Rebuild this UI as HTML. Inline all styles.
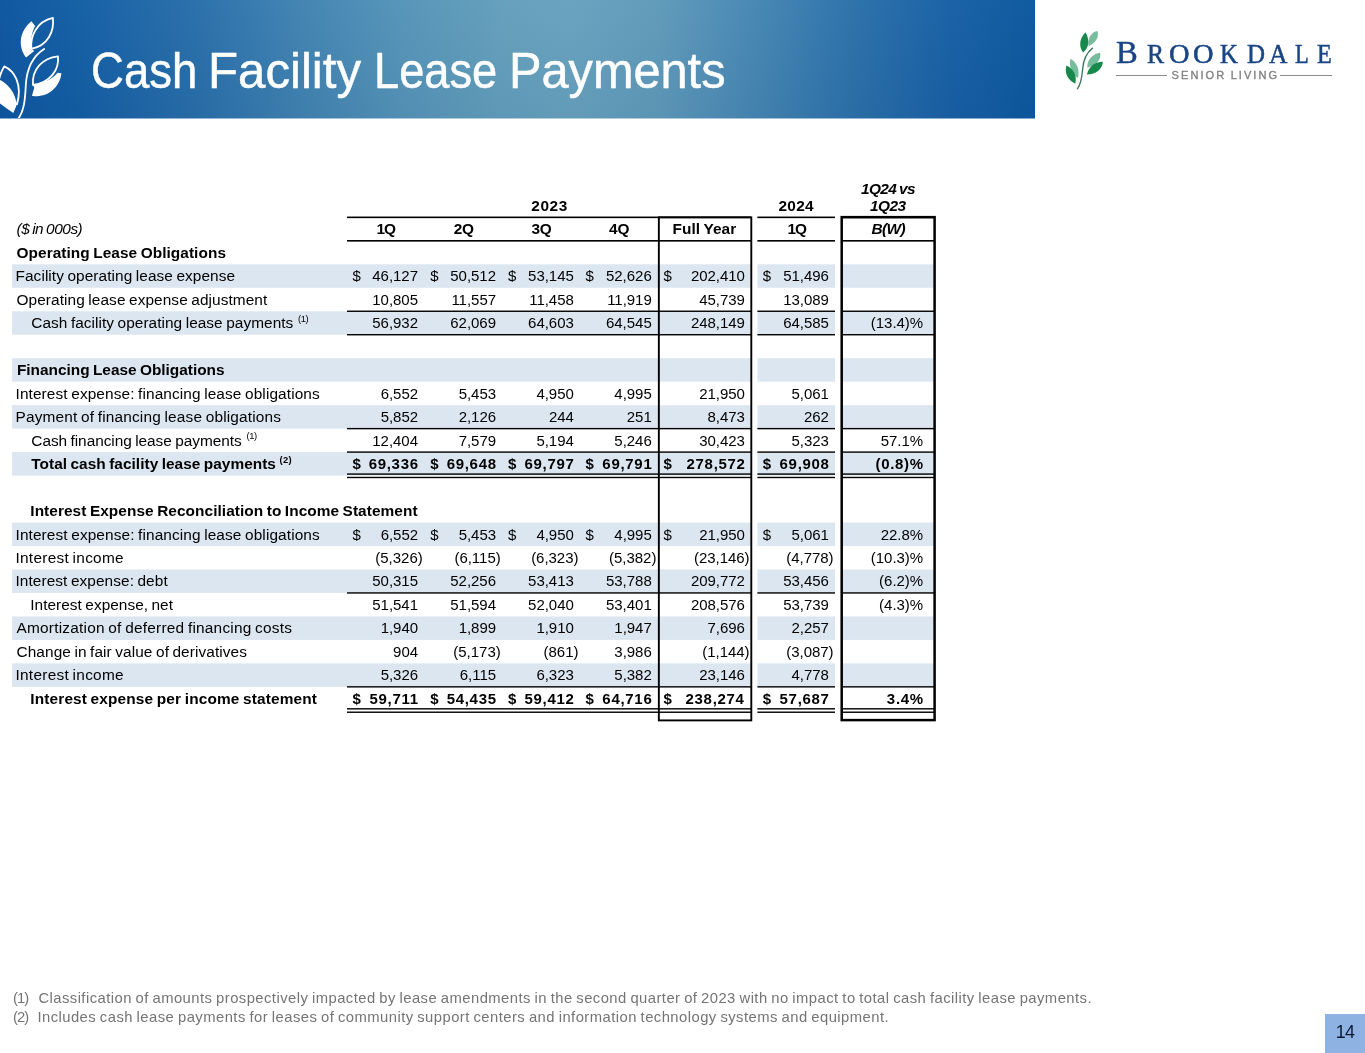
<!DOCTYPE html>
<html><head><meta charset="utf-8"><title>Cash Facility Lease Payments</title>
<style>
html,body{margin:0;padding:0;background:#fff;}
body{width:1365px;height:1053px;position:relative;overflow:hidden;font-family:"Liberation Sans",sans-serif;color:#000;}
.t{position:absolute;white-space:pre;display:block;}
#txt{position:absolute;left:0;top:0;width:1365px;height:1053px;will-change:transform;}
.r{position:absolute;box-sizing:content-box;}
#banner,#banner2{position:absolute;left:0;top:0;width:1035px;height:118px;
 background:linear-gradient(to bottom,rgba(255,255,255,0.015),rgba(0,20,60,0.05)),linear-gradient(to right,#0e57a1 0,#145fa5 80px,#2a70ab 200px,#4183b2 300px,#5594b8 400px,#639fbc 500px,#68a2be 570px,#5f9aba 660px,#4888b4 750px,#2d72ab 850px,#1861a5 950px,#0d589f 1035px);}
#banner2{top:118px;height:1px;opacity:.5;}
#pg{position:absolute;left:1325px;top:1014px;width:40px;height:39px;background:#8eb2e2;}
</style></head><body>
<div id="banner"></div><div id="banner2"></div>
<div id="pg"></div>
<svg style="position:absolute;left:0;top:10px" width="70" height="108" viewBox="0 0 658 1015" fill="none" stroke="none">
<g stroke="#fff" stroke-width="17" stroke-linejoin="round" stroke-linecap="round">
<path d="M295,365 C283,250 340,110 497,75 C512,200 450,335 295,365 Z"/>
<path d="M415,367 C300,440 252,560 243,700 C236,850 225,950 172,1022"/>
<path d="M310,705 C298,560 400,450 545,435 C560,560 470,685 310,705 Z"/>
<path d="M-20,700 C0,600 20,560 40,530 C130,570 215,690 160,885"/>
</g>
<g fill="#fff">
<path d="M295,105 C190,190 160,330 245,447 L322,385 L297,365 C286,280 300,205 330,150 Z"/>
<path d="M577,595 C565,720 450,835 300,805 L322,730 L310,705 C420,690 500,640 542,590 Z"/>
<path d="M-20,650 C60,680 130,760 150,850 L160,885 L125,968 C80,940 30,900 -20,865 Z"/>
</g>
</svg>
<svg style="position:absolute;left:1055px;top:20px" width="70" height="80" viewBox="0 0 921 1053">
<path d="M495,370 C400,440 370,540 362,660 C352,780 335,850 295,905" stroke="#3b7558" stroke-width="17" fill="none" stroke-linecap="round"/>
<path d="M560,145 C480,160 430,230 440,345 C540,300 580,230 560,145 Z" fill="#78bc9e"/>
<path d="M400,160 C320,240 310,350 370,428 C450,360 460,260 400,160 Z" fill="#17894c"/>
<path d="M595,430 C500,440 420,520 425,625 C540,600 610,530 595,430 Z" fill="#78bc9e"/>
<path d="M630,550 C520,550 440,620 420,718 C540,715 620,650 630,550 Z" fill="#17894c"/>
<path d="M205,510 C180,600 210,700 300,765 C330,660 290,560 205,510 Z" fill="#78bc9e"/>
<path d="M150,600 C120,700 170,800 268,838 C290,730 240,640 150,600 Z" fill="#17894c"/>
</svg>
<div class="r" style="left:1115.9px;top:74.7px;width:51.4px;height:1.1px;background:#8c8c8c"></div>
<div class="r" style="left:1279.8px;top:74.7px;width:51.8px;height:1.1px;background:#8c8c8c"></div>
<svg style="position:absolute;left:0;top:0" width="1365" height="1053" viewBox="0 0 1365 1053">
<rect x="12.10" y="264.30" width="738.90" height="23.48" fill="#dce6f1"/>
<rect x="757.50" y="264.30" width="77.50" height="23.48" fill="#dce6f1"/>
<rect x="842.00" y="264.30" width="92.00" height="23.48" fill="#dce6f1"/>
<rect x="12.10" y="311.25" width="738.90" height="23.48" fill="#dce6f1"/>
<rect x="757.50" y="311.25" width="77.50" height="23.48" fill="#dce6f1"/>
<rect x="842.00" y="311.25" width="92.00" height="23.48" fill="#dce6f1"/>
<rect x="12.10" y="358.20" width="738.90" height="23.48" fill="#dce6f1"/>
<rect x="757.50" y="358.20" width="77.50" height="23.48" fill="#dce6f1"/>
<rect x="842.00" y="358.20" width="92.00" height="23.48" fill="#dce6f1"/>
<rect x="12.10" y="405.15" width="738.90" height="23.48" fill="#dce6f1"/>
<rect x="757.50" y="405.15" width="77.50" height="23.48" fill="#dce6f1"/>
<rect x="842.00" y="405.15" width="92.00" height="23.48" fill="#dce6f1"/>
<rect x="12.10" y="452.10" width="738.90" height="23.48" fill="#dce6f1"/>
<rect x="757.50" y="452.10" width="77.50" height="23.48" fill="#dce6f1"/>
<rect x="842.00" y="452.10" width="92.00" height="23.48" fill="#dce6f1"/>
<rect x="12.10" y="522.52" width="738.90" height="23.48" fill="#dce6f1"/>
<rect x="757.50" y="522.52" width="77.50" height="23.48" fill="#dce6f1"/>
<rect x="842.00" y="522.52" width="92.00" height="23.48" fill="#dce6f1"/>
<rect x="12.10" y="569.48" width="738.90" height="23.48" fill="#dce6f1"/>
<rect x="757.50" y="569.48" width="77.50" height="23.48" fill="#dce6f1"/>
<rect x="842.00" y="569.48" width="92.00" height="23.48" fill="#dce6f1"/>
<rect x="12.10" y="616.43" width="738.90" height="23.48" fill="#dce6f1"/>
<rect x="757.50" y="616.43" width="77.50" height="23.48" fill="#dce6f1"/>
<rect x="842.00" y="616.43" width="92.00" height="23.48" fill="#dce6f1"/>
<rect x="12.10" y="663.38" width="738.90" height="23.48" fill="#dce6f1"/>
<rect x="757.50" y="663.38" width="77.50" height="23.48" fill="#dce6f1"/>
<rect x="842.00" y="663.38" width="92.00" height="23.48" fill="#dce6f1"/>
<rect x="347.00" y="216.55" width="404.00" height="1.60" fill="#000"/>
<rect x="757.40" y="216.55" width="77.60" height="1.60" fill="#000"/>
<rect x="842.00" y="216.55" width="92.00" height="1.60" fill="#000"/>
<rect x="347.00" y="240.02" width="404.00" height="1.60" fill="#000"/>
<rect x="757.40" y="240.02" width="77.60" height="1.60" fill="#000"/>
<rect x="842.00" y="240.02" width="92.00" height="1.60" fill="#000"/>
<rect x="347.00" y="310.55" width="404.00" height="1.40" fill="#000"/>
<rect x="757.40" y="310.55" width="77.60" height="1.40" fill="#000"/>
<rect x="842.00" y="310.55" width="92.00" height="1.40" fill="#000"/>
<rect x="347.00" y="334.03" width="404.00" height="1.40" fill="#000"/>
<rect x="757.40" y="334.03" width="77.60" height="1.40" fill="#000"/>
<rect x="842.00" y="334.03" width="92.00" height="1.40" fill="#000"/>
<rect x="347.00" y="427.93" width="404.00" height="1.40" fill="#000"/>
<rect x="757.40" y="427.93" width="77.60" height="1.40" fill="#000"/>
<rect x="842.00" y="427.93" width="92.00" height="1.40" fill="#000"/>
<rect x="347.00" y="451.40" width="404.00" height="1.40" fill="#000"/>
<rect x="757.40" y="451.40" width="77.60" height="1.40" fill="#000"/>
<rect x="842.00" y="451.40" width="92.00" height="1.40" fill="#000"/>
<rect x="347.00" y="592.25" width="404.00" height="1.40" fill="#000"/>
<rect x="757.40" y="592.25" width="77.60" height="1.40" fill="#000"/>
<rect x="842.00" y="592.25" width="92.00" height="1.40" fill="#000"/>
<rect x="347.00" y="686.15" width="404.00" height="1.40" fill="#000"/>
<rect x="757.40" y="686.15" width="77.60" height="1.40" fill="#000"/>
<rect x="842.00" y="686.15" width="92.00" height="1.40" fill="#000"/>
<rect x="347.00" y="473.38" width="404.00" height="1.40" fill="#000"/>
<rect x="757.40" y="473.38" width="77.60" height="1.40" fill="#000"/>
<rect x="842.00" y="473.38" width="92.00" height="1.40" fill="#000"/>
<rect x="347.00" y="476.78" width="404.00" height="1.40" fill="#000"/>
<rect x="757.40" y="476.78" width="77.60" height="1.40" fill="#000"/>
<rect x="842.00" y="476.78" width="92.00" height="1.40" fill="#000"/>
<rect x="347.00" y="708.12" width="404.00" height="1.40" fill="#000"/>
<rect x="757.40" y="708.12" width="77.60" height="1.40" fill="#000"/>
<rect x="842.00" y="708.12" width="92.00" height="1.40" fill="#000"/>
<rect x="347.00" y="711.52" width="404.00" height="1.40" fill="#000"/>
<rect x="757.40" y="711.52" width="77.60" height="1.40" fill="#000"/>
<rect x="842.00" y="711.52" width="92.00" height="1.40" fill="#000"/>
<rect x="658.85" y="217.35" width="92.45" height="503.05" fill="none" stroke="#000" stroke-width="1.9"/>
<rect x="841.7" y="217.15" width="92.90" height="502.95" fill="none" stroke="#000" stroke-width="2.5"/>
</svg>
<div id="txt">
<span class="t" style="left:16.50px;top:219.00px;font-size:15.4px;line-height:20px;letter-spacing:-0.470px;word-spacing:-0.89px;font-style:italic;">($ in 000s)</span>
<span class="t" style="left:16.50px;top:243.00px;font-size:15.4px;line-height:20px;letter-spacing:0.066px;word-spacing:-0.89px;font-weight:bold;">Operating Lease Obligations</span>
<span class="t" style="left:15.50px;top:266.00px;font-size:15.4px;line-height:20px;letter-spacing:0.076px;word-spacing:-0.89px;">Facility operating lease expense</span>
<span class="t" style="left:16.50px;top:290.00px;font-size:15.4px;line-height:20px;letter-spacing:0.084px;word-spacing:-0.89px;">Operating lease expense adjustment</span>
<span class="t" style="left:31.30px;top:313.00px;font-size:15.4px;line-height:20px;letter-spacing:0.056px;word-spacing:-0.89px;">Cash facility operating lease payments</span>
<span class="t" style="left:298.00px;top:313.00px;font-size:9.4px;line-height:12px;letter-spacing:-0.418px;">(1)</span>
<span class="t" style="left:16.90px;top:360.00px;font-size:15.4px;line-height:20px;letter-spacing:-0.003px;word-spacing:-0.89px;font-weight:bold;">Financing Lease Obligations</span>
<span class="t" style="left:15.50px;top:384.00px;font-size:15.4px;line-height:20px;letter-spacing:0.111px;word-spacing:-0.89px;">Interest expense: financing lease obligations</span>
<span class="t" style="left:15.50px;top:407.00px;font-size:15.4px;line-height:20px;letter-spacing:0.173px;word-spacing:-0.89px;">Payment of financing lease obligations</span>
<span class="t" style="left:31.30px;top:431.00px;font-size:15.4px;line-height:20px;letter-spacing:-0.029px;word-spacing:-0.89px;">Cash financing lease payments</span>
<span class="t" style="left:246.50px;top:430.00px;font-size:9.4px;line-height:12px;letter-spacing:-0.418px;">(1)</span>
<span class="t" style="left:31.30px;top:454.00px;font-size:15.4px;line-height:20px;letter-spacing:0.037px;word-spacing:-0.89px;font-weight:bold;">Total cash facility lease payments</span>
<span class="t" style="left:279.50px;top:454.00px;font-size:9.4px;line-height:12px;letter-spacing:0.332px;font-weight:bold;">(2)</span>
<span class="t" style="left:30.30px;top:501.00px;font-size:15.4px;line-height:20px;letter-spacing:0.068px;word-spacing:-0.89px;font-weight:bold;">Interest Expense Reconciliation to Income Statement</span>
<span class="t" style="left:15.50px;top:525.00px;font-size:15.4px;line-height:20px;letter-spacing:0.111px;word-spacing:-0.89px;">Interest expense: financing lease obligations</span>
<span class="t" style="left:15.50px;top:548.00px;font-size:15.4px;line-height:20px;letter-spacing:0.267px;word-spacing:-0.89px;">Interest income</span>
<span class="t" style="left:15.50px;top:571.00px;font-size:15.4px;line-height:20px;letter-spacing:0.079px;word-spacing:-0.89px;">Interest expense: debt</span>
<span class="t" style="left:30.30px;top:595.00px;font-size:15.4px;line-height:20px;letter-spacing:0.036px;word-spacing:-0.89px;">Interest expense, net</span>
<span class="t" style="left:16.50px;top:618.00px;font-size:15.4px;line-height:20px;letter-spacing:0.222px;word-spacing:-0.89px;">Amortization of deferred financing costs</span>
<span class="t" style="left:16.50px;top:642.00px;font-size:15.4px;line-height:20px;letter-spacing:0.089px;word-spacing:-0.89px;">Change in fair value of derivatives</span>
<span class="t" style="left:15.50px;top:665.00px;font-size:15.4px;line-height:20px;letter-spacing:0.267px;word-spacing:-0.89px;">Interest income</span>
<span class="t" style="left:30.30px;top:689.00px;font-size:15.4px;line-height:20px;letter-spacing:0.149px;word-spacing:-0.89px;font-weight:bold;">Interest expense per income statement</span>
<span class="t" style="left:372.31px;top:266.00px;font-size:15.0px;line-height:20px;letter-spacing:-0.030px;">46,127</span>
<span class="t" style="left:352.50px;top:266.00px;font-size:15.0px;line-height:20px;letter-spacing:0.000px;">$</span>
<span class="t" style="left:450.31px;top:266.00px;font-size:15.0px;line-height:20px;letter-spacing:-0.030px;">50,512</span>
<span class="t" style="left:430.20px;top:266.00px;font-size:15.0px;line-height:20px;letter-spacing:0.000px;">$</span>
<span class="t" style="left:528.11px;top:266.00px;font-size:15.0px;line-height:20px;letter-spacing:-0.030px;">53,145</span>
<span class="t" style="left:507.90px;top:266.00px;font-size:15.0px;line-height:20px;letter-spacing:0.000px;">$</span>
<span class="t" style="left:606.01px;top:266.00px;font-size:15.0px;line-height:20px;letter-spacing:-0.030px;">52,626</span>
<span class="t" style="left:585.60px;top:266.00px;font-size:15.0px;line-height:20px;letter-spacing:0.000px;">$</span>
<span class="t" style="left:690.90px;top:266.00px;font-size:15.0px;line-height:20px;letter-spacing:-0.030px;">202,410</span>
<span class="t" style="left:663.50px;top:266.00px;font-size:15.0px;line-height:20px;letter-spacing:0.000px;">$</span>
<span class="t" style="left:783.21px;top:266.00px;font-size:15.0px;line-height:20px;letter-spacing:-0.030px;">51,496</span>
<span class="t" style="left:762.80px;top:266.00px;font-size:15.0px;line-height:20px;letter-spacing:0.000px;">$</span>
<span class="t" style="left:372.31px;top:290.00px;font-size:15.0px;line-height:20px;letter-spacing:-0.030px;">10,805</span>
<span class="t" style="left:451.43px;top:290.00px;font-size:15.0px;line-height:20px;letter-spacing:-0.030px;">11,557</span>
<span class="t" style="left:529.23px;top:290.00px;font-size:15.0px;line-height:20px;letter-spacing:-0.030px;">11,458</span>
<span class="t" style="left:607.13px;top:290.00px;font-size:15.0px;line-height:20px;letter-spacing:-0.030px;">11,919</span>
<span class="t" style="left:699.21px;top:290.00px;font-size:15.0px;line-height:20px;letter-spacing:-0.030px;">45,739</span>
<span class="t" style="left:783.21px;top:290.00px;font-size:15.0px;line-height:20px;letter-spacing:-0.030px;">13,089</span>
<span class="t" style="left:372.31px;top:313.00px;font-size:15.0px;line-height:20px;letter-spacing:-0.030px;">56,932</span>
<span class="t" style="left:450.31px;top:313.00px;font-size:15.0px;line-height:20px;letter-spacing:-0.030px;">62,069</span>
<span class="t" style="left:528.11px;top:313.00px;font-size:15.0px;line-height:20px;letter-spacing:-0.030px;">64,603</span>
<span class="t" style="left:606.01px;top:313.00px;font-size:15.0px;line-height:20px;letter-spacing:-0.030px;">64,545</span>
<span class="t" style="left:690.90px;top:313.00px;font-size:15.0px;line-height:20px;letter-spacing:-0.030px;">248,149</span>
<span class="t" style="left:783.21px;top:313.00px;font-size:15.0px;line-height:20px;letter-spacing:-0.030px;">64,585</span>
<span class="t" style="left:870.80px;top:313.00px;font-size:15.0px;line-height:20px;letter-spacing:-0.030px;">(13.4)%</span>
<span class="t" style="left:380.63px;top:384.00px;font-size:15.0px;line-height:20px;letter-spacing:-0.030px;">6,552</span>
<span class="t" style="left:458.63px;top:384.00px;font-size:15.0px;line-height:20px;letter-spacing:-0.030px;">5,453</span>
<span class="t" style="left:536.43px;top:384.00px;font-size:15.0px;line-height:20px;letter-spacing:-0.030px;">4,950</span>
<span class="t" style="left:614.33px;top:384.00px;font-size:15.0px;line-height:20px;letter-spacing:-0.030px;">4,995</span>
<span class="t" style="left:699.21px;top:384.00px;font-size:15.0px;line-height:20px;letter-spacing:-0.030px;">21,950</span>
<span class="t" style="left:791.53px;top:384.00px;font-size:15.0px;line-height:20px;letter-spacing:-0.030px;">5,061</span>
<span class="t" style="left:380.63px;top:407.00px;font-size:15.0px;line-height:20px;letter-spacing:-0.030px;">5,852</span>
<span class="t" style="left:458.63px;top:407.00px;font-size:15.0px;line-height:20px;letter-spacing:-0.030px;">2,126</span>
<span class="t" style="left:548.88px;top:407.00px;font-size:15.0px;line-height:20px;letter-spacing:-0.030px;">244</span>
<span class="t" style="left:626.78px;top:407.00px;font-size:15.0px;line-height:20px;letter-spacing:-0.030px;">251</span>
<span class="t" style="left:707.53px;top:407.00px;font-size:15.0px;line-height:20px;letter-spacing:-0.030px;">8,473</span>
<span class="t" style="left:803.98px;top:407.00px;font-size:15.0px;line-height:20px;letter-spacing:-0.030px;">262</span>
<span class="t" style="left:372.31px;top:431.00px;font-size:15.0px;line-height:20px;letter-spacing:-0.030px;">12,404</span>
<span class="t" style="left:458.63px;top:431.00px;font-size:15.0px;line-height:20px;letter-spacing:-0.030px;">7,579</span>
<span class="t" style="left:536.43px;top:431.00px;font-size:15.0px;line-height:20px;letter-spacing:-0.030px;">5,194</span>
<span class="t" style="left:614.33px;top:431.00px;font-size:15.0px;line-height:20px;letter-spacing:-0.030px;">5,246</span>
<span class="t" style="left:699.21px;top:431.00px;font-size:15.0px;line-height:20px;letter-spacing:-0.030px;">30,423</span>
<span class="t" style="left:791.53px;top:431.00px;font-size:15.0px;line-height:20px;letter-spacing:-0.030px;">5,323</span>
<span class="t" style="left:880.73px;top:431.00px;font-size:15.0px;line-height:20px;letter-spacing:-0.030px;">57.1%</span>
<span class="t" style="left:368.66px;top:454.00px;font-size:15.0px;line-height:20px;letter-spacing:0.700px;font-weight:bold;">69,336</span>
<span class="t" style="left:352.50px;top:454.00px;font-size:15.0px;line-height:20px;letter-spacing:0.000px;font-weight:bold;">$</span>
<span class="t" style="left:446.66px;top:454.00px;font-size:15.0px;line-height:20px;letter-spacing:0.700px;font-weight:bold;">69,648</span>
<span class="t" style="left:430.20px;top:454.00px;font-size:15.0px;line-height:20px;letter-spacing:0.000px;font-weight:bold;">$</span>
<span class="t" style="left:524.46px;top:454.00px;font-size:15.0px;line-height:20px;letter-spacing:0.700px;font-weight:bold;">69,797</span>
<span class="t" style="left:507.90px;top:454.00px;font-size:15.0px;line-height:20px;letter-spacing:0.000px;font-weight:bold;">$</span>
<span class="t" style="left:602.36px;top:454.00px;font-size:15.0px;line-height:20px;letter-spacing:0.700px;font-weight:bold;">69,791</span>
<span class="t" style="left:585.60px;top:454.00px;font-size:15.0px;line-height:20px;letter-spacing:0.000px;font-weight:bold;">$</span>
<span class="t" style="left:686.52px;top:454.00px;font-size:15.0px;line-height:20px;letter-spacing:0.700px;font-weight:bold;">278,572</span>
<span class="t" style="left:663.50px;top:454.00px;font-size:15.0px;line-height:20px;letter-spacing:0.000px;font-weight:bold;">$</span>
<span class="t" style="left:779.56px;top:454.00px;font-size:15.0px;line-height:20px;letter-spacing:0.700px;font-weight:bold;">69,908</span>
<span class="t" style="left:762.80px;top:454.00px;font-size:15.0px;line-height:20px;letter-spacing:0.000px;font-weight:bold;">$</span>
<span class="t" style="left:875.46px;top:454.00px;font-size:15.0px;line-height:20px;letter-spacing:0.700px;font-weight:bold;">(0.8)%</span>
<span class="t" style="left:380.63px;top:525.00px;font-size:15.0px;line-height:20px;letter-spacing:-0.030px;">6,552</span>
<span class="t" style="left:352.50px;top:525.00px;font-size:15.0px;line-height:20px;letter-spacing:0.000px;">$</span>
<span class="t" style="left:458.63px;top:525.00px;font-size:15.0px;line-height:20px;letter-spacing:-0.030px;">5,453</span>
<span class="t" style="left:430.20px;top:525.00px;font-size:15.0px;line-height:20px;letter-spacing:0.000px;">$</span>
<span class="t" style="left:536.43px;top:525.00px;font-size:15.0px;line-height:20px;letter-spacing:-0.030px;">4,950</span>
<span class="t" style="left:507.90px;top:525.00px;font-size:15.0px;line-height:20px;letter-spacing:0.000px;">$</span>
<span class="t" style="left:614.33px;top:525.00px;font-size:15.0px;line-height:20px;letter-spacing:-0.030px;">4,995</span>
<span class="t" style="left:585.60px;top:525.00px;font-size:15.0px;line-height:20px;letter-spacing:0.000px;">$</span>
<span class="t" style="left:699.21px;top:525.00px;font-size:15.0px;line-height:20px;letter-spacing:-0.030px;">21,950</span>
<span class="t" style="left:663.50px;top:525.00px;font-size:15.0px;line-height:20px;letter-spacing:0.000px;">$</span>
<span class="t" style="left:791.53px;top:525.00px;font-size:15.0px;line-height:20px;letter-spacing:-0.030px;">5,061</span>
<span class="t" style="left:762.80px;top:525.00px;font-size:15.0px;line-height:20px;letter-spacing:0.000px;">$</span>
<span class="t" style="left:880.73px;top:525.00px;font-size:15.0px;line-height:20px;letter-spacing:-0.030px;">22.8%</span>
<span class="t" style="left:375.35px;top:548.00px;font-size:15.0px;line-height:20px;letter-spacing:-0.030px;">(5,326)</span>
<span class="t" style="left:454.46px;top:548.00px;font-size:15.0px;line-height:20px;letter-spacing:-0.030px;">(6,115)</span>
<span class="t" style="left:531.15px;top:548.00px;font-size:15.0px;line-height:20px;letter-spacing:-0.030px;">(6,323)</span>
<span class="t" style="left:609.05px;top:548.00px;font-size:15.0px;line-height:20px;letter-spacing:-0.030px;">(5,382)</span>
<span class="t" style="left:693.94px;top:548.00px;font-size:15.0px;line-height:20px;letter-spacing:-0.030px;">(23,146)</span>
<span class="t" style="left:786.25px;top:548.00px;font-size:15.0px;line-height:20px;letter-spacing:-0.030px;">(4,778)</span>
<span class="t" style="left:870.80px;top:548.00px;font-size:15.0px;line-height:20px;letter-spacing:-0.030px;">(10.3)%</span>
<span class="t" style="left:372.31px;top:571.00px;font-size:15.0px;line-height:20px;letter-spacing:-0.030px;">50,315</span>
<span class="t" style="left:450.31px;top:571.00px;font-size:15.0px;line-height:20px;letter-spacing:-0.030px;">52,256</span>
<span class="t" style="left:528.11px;top:571.00px;font-size:15.0px;line-height:20px;letter-spacing:-0.030px;">53,413</span>
<span class="t" style="left:606.01px;top:571.00px;font-size:15.0px;line-height:20px;letter-spacing:-0.030px;">53,788</span>
<span class="t" style="left:690.90px;top:571.00px;font-size:15.0px;line-height:20px;letter-spacing:-0.030px;">209,772</span>
<span class="t" style="left:783.21px;top:571.00px;font-size:15.0px;line-height:20px;letter-spacing:-0.030px;">53,456</span>
<span class="t" style="left:879.11px;top:571.00px;font-size:15.0px;line-height:20px;letter-spacing:-0.030px;">(6.2)%</span>
<span class="t" style="left:372.31px;top:595.00px;font-size:15.0px;line-height:20px;letter-spacing:-0.030px;">51,541</span>
<span class="t" style="left:450.31px;top:595.00px;font-size:15.0px;line-height:20px;letter-spacing:-0.030px;">51,594</span>
<span class="t" style="left:528.11px;top:595.00px;font-size:15.0px;line-height:20px;letter-spacing:-0.030px;">52,040</span>
<span class="t" style="left:606.01px;top:595.00px;font-size:15.0px;line-height:20px;letter-spacing:-0.030px;">53,401</span>
<span class="t" style="left:690.90px;top:595.00px;font-size:15.0px;line-height:20px;letter-spacing:-0.030px;">208,576</span>
<span class="t" style="left:783.21px;top:595.00px;font-size:15.0px;line-height:20px;letter-spacing:-0.030px;">53,739</span>
<span class="t" style="left:879.11px;top:595.00px;font-size:15.0px;line-height:20px;letter-spacing:-0.030px;">(4.3)%</span>
<span class="t" style="left:380.63px;top:618.00px;font-size:15.0px;line-height:20px;letter-spacing:-0.030px;">1,940</span>
<span class="t" style="left:458.63px;top:618.00px;font-size:15.0px;line-height:20px;letter-spacing:-0.030px;">1,899</span>
<span class="t" style="left:536.43px;top:618.00px;font-size:15.0px;line-height:20px;letter-spacing:-0.030px;">1,910</span>
<span class="t" style="left:614.33px;top:618.00px;font-size:15.0px;line-height:20px;letter-spacing:-0.030px;">1,947</span>
<span class="t" style="left:707.53px;top:618.00px;font-size:15.0px;line-height:20px;letter-spacing:-0.030px;">7,696</span>
<span class="t" style="left:791.53px;top:618.00px;font-size:15.0px;line-height:20px;letter-spacing:-0.030px;">2,257</span>
<span class="t" style="left:393.08px;top:642.00px;font-size:15.0px;line-height:20px;letter-spacing:-0.030px;">904</span>
<span class="t" style="left:453.35px;top:642.00px;font-size:15.0px;line-height:20px;letter-spacing:-0.030px;">(5,173)</span>
<span class="t" style="left:543.60px;top:642.00px;font-size:15.0px;line-height:20px;letter-spacing:-0.030px;">(861)</span>
<span class="t" style="left:614.33px;top:642.00px;font-size:15.0px;line-height:20px;letter-spacing:-0.030px;">3,986</span>
<span class="t" style="left:702.25px;top:642.00px;font-size:15.0px;line-height:20px;letter-spacing:-0.030px;">(1,144)</span>
<span class="t" style="left:786.25px;top:642.00px;font-size:15.0px;line-height:20px;letter-spacing:-0.030px;">(3,087)</span>
<span class="t" style="left:380.63px;top:665.00px;font-size:15.0px;line-height:20px;letter-spacing:-0.030px;">5,326</span>
<span class="t" style="left:459.74px;top:665.00px;font-size:15.0px;line-height:20px;letter-spacing:-0.030px;">6,115</span>
<span class="t" style="left:536.43px;top:665.00px;font-size:15.0px;line-height:20px;letter-spacing:-0.030px;">6,323</span>
<span class="t" style="left:614.33px;top:665.00px;font-size:15.0px;line-height:20px;letter-spacing:-0.030px;">5,382</span>
<span class="t" style="left:699.21px;top:665.00px;font-size:15.0px;line-height:20px;letter-spacing:-0.030px;">23,146</span>
<span class="t" style="left:791.53px;top:665.00px;font-size:15.0px;line-height:20px;letter-spacing:-0.030px;">4,778</span>
<span class="t" style="left:369.49px;top:689.00px;font-size:15.0px;line-height:20px;letter-spacing:0.700px;font-weight:bold;">59,711</span>
<span class="t" style="left:352.50px;top:689.00px;font-size:15.0px;line-height:20px;letter-spacing:0.000px;font-weight:bold;">$</span>
<span class="t" style="left:446.66px;top:689.00px;font-size:15.0px;line-height:20px;letter-spacing:0.700px;font-weight:bold;">54,435</span>
<span class="t" style="left:430.20px;top:689.00px;font-size:15.0px;line-height:20px;letter-spacing:0.000px;font-weight:bold;">$</span>
<span class="t" style="left:524.46px;top:689.00px;font-size:15.0px;line-height:20px;letter-spacing:0.700px;font-weight:bold;">59,412</span>
<span class="t" style="left:507.90px;top:689.00px;font-size:15.0px;line-height:20px;letter-spacing:0.000px;font-weight:bold;">$</span>
<span class="t" style="left:602.36px;top:689.00px;font-size:15.0px;line-height:20px;letter-spacing:0.700px;font-weight:bold;">64,716</span>
<span class="t" style="left:585.60px;top:689.00px;font-size:15.0px;line-height:20px;letter-spacing:0.000px;font-weight:bold;">$</span>
<span class="t" style="left:685.52px;top:689.00px;font-size:15.0px;line-height:20px;letter-spacing:0.700px;font-weight:bold;">238,274</span>
<span class="t" style="left:663.50px;top:689.00px;font-size:15.0px;line-height:20px;letter-spacing:0.000px;font-weight:bold;">$</span>
<span class="t" style="left:779.56px;top:689.00px;font-size:15.0px;line-height:20px;letter-spacing:0.700px;font-weight:bold;">57,687</span>
<span class="t" style="left:762.80px;top:689.00px;font-size:15.0px;line-height:20px;letter-spacing:0.000px;font-weight:bold;">$</span>
<span class="t" style="left:886.85px;top:689.00px;font-size:15.0px;line-height:20px;letter-spacing:0.700px;font-weight:bold;">3.4%</span>
<span class="t" style="left:376.60px;top:219.00px;font-size:15.4px;line-height:20px;letter-spacing:-1.160px;font-weight:bold;">1Q</span>
<span class="t" style="left:453.80px;top:219.00px;font-size:15.4px;line-height:20px;letter-spacing:-0.360px;font-weight:bold;">2Q</span>
<span class="t" style="left:531.50px;top:219.00px;font-size:15.4px;line-height:20px;letter-spacing:-0.360px;font-weight:bold;">3Q</span>
<span class="t" style="left:609.00px;top:219.00px;font-size:15.4px;line-height:20px;letter-spacing:-0.160px;font-weight:bold;">4Q</span>
<span class="t" style="left:672.50px;top:219.00px;font-size:15.4px;line-height:20px;letter-spacing:0.091px;word-spacing:-0.89px;font-weight:bold;">Full Year</span>
<span class="t" style="left:787.50px;top:219.00px;font-size:15.4px;line-height:20px;letter-spacing:-1.060px;font-weight:bold;">1Q</span>
<span class="t" style="left:871.50px;top:219.00px;font-size:15.4px;line-height:20px;letter-spacing:-0.589px;font-weight:bold;font-style:italic;">B(W)</span>
<span class="t" style="left:531.30px;top:196.00px;font-size:15.4px;line-height:20px;letter-spacing:0.574px;font-weight:bold;">2023</span>
<span class="t" style="left:778.50px;top:196.00px;font-size:15.4px;line-height:20px;letter-spacing:0.274px;font-weight:bold;">2024</span>
<span class="t" style="left:861.00px;top:179.00px;font-size:15.4px;line-height:20px;letter-spacing:-0.599px;word-spacing:-0.89px;font-weight:bold;font-style:italic;">1Q24 vs</span>
<span class="t" style="left:870.00px;top:196.00px;font-size:15.4px;line-height:20px;letter-spacing:-0.530px;font-weight:bold;font-style:italic;">1Q23</span>
<span class="t" style="left:90.61px;top:38.00px;font-size:50.8px;line-height:66px;letter-spacing:0.000px;transform:scaleX(0.8965);transform-origin:0 0;-webkit-text-stroke:0.5px #fff;color:#fff;">Cash</span>
<span class="t" style="left:208.33px;top:38.00px;font-size:50.8px;line-height:66px;letter-spacing:0.000px;transform:scaleX(0.9680);transform-origin:0 0;-webkit-text-stroke:0.5px #fff;color:#fff;">Facility</span>
<span class="t" style="left:374.14px;top:38.00px;font-size:50.8px;line-height:66px;letter-spacing:0.000px;transform:scaleX(0.8899);transform-origin:0 0;-webkit-text-stroke:0.5px #fff;color:#fff;">Lease</span>
<span class="t" style="left:509.07px;top:38.00px;font-size:50.8px;line-height:66px;letter-spacing:0.000px;transform:scaleX(0.9585);transform-origin:0 0;-webkit-text-stroke:0.5px #fff;color:#fff;">Payments</span>
<span class="t" style="left:12.90px;top:989.00px;font-size:14.8px;line-height:19px;letter-spacing:-0.878px;color:#747474;">(1)</span>
<span class="t" style="left:38.40px;top:989.00px;font-size:14.8px;line-height:19px;letter-spacing:0.449px;word-spacing:-0.86px;color:#747474;">Classification of amounts prospectively impacted by lease amendments in the second quarter of 2023 with no impact to total cash facility lease payments.</span>
<span class="t" style="left:12.90px;top:1008.00px;font-size:14.8px;line-height:19px;letter-spacing:-0.878px;color:#747474;">(2)</span>
<span class="t" style="left:37.40px;top:1008.00px;font-size:14.8px;line-height:19px;letter-spacing:0.454px;word-spacing:-0.86px;color:#747474;">Includes cash lease payments for leases of community support centers and information technology systems and equipment.</span>
<span class="t" style="left:1335.70px;top:1021.00px;font-size:17.9px;line-height:23px;letter-spacing:-0.550px;color:#0a1a33;">14</span>
<span class="t" style="left:1171.60px;top:68.00px;font-size:11.0px;line-height:14px;letter-spacing:2.066px;word-spacing:-0.64px;-webkit-text-stroke:0.35px #808080;color:#808080;">SENIOR LIVING</span>
<span class="t" style="left:1115.90px;top:31.00px;font-size:32.5px;line-height:42px;letter-spacing:0.000px;transform:scaleX(1.0048);transform-origin:0 0;-webkit-text-stroke:0.5px #1a4584;color:#1a4584;font-family:'Liberation Serif',serif;">B</span>
<span class="t" style="left:1146.70px;top:37.00px;font-size:26.8px;line-height:35px;letter-spacing:0.000px;transform:scaleX(0.9556);transform-origin:0 0;-webkit-text-stroke:0.5px #1a4584;color:#1a4584;font-family:'Liberation Serif',serif;">R</span>
<span class="t" style="left:1168.74px;top:37.00px;font-size:26.8px;line-height:35px;letter-spacing:0.000px;transform:scaleX(1.0611);transform-origin:0 0;-webkit-text-stroke:0.5px #1a4584;color:#1a4584;font-family:'Liberation Serif',serif;">O</span>
<span class="t" style="left:1193.14px;top:37.00px;font-size:26.8px;line-height:35px;letter-spacing:0.000px;transform:scaleX(1.0611);transform-origin:0 0;-webkit-text-stroke:0.5px #1a4584;color:#1a4584;font-family:'Liberation Serif',serif;">O</span>
<span class="t" style="left:1220.40px;top:37.00px;font-size:26.8px;line-height:35px;letter-spacing:0.000px;transform:scaleX(0.9250);transform-origin:0 0;-webkit-text-stroke:0.5px #1a4584;color:#1a4584;font-family:'Liberation Serif',serif;">K</span>
<span class="t" style="left:1247.30px;top:37.00px;font-size:26.8px;line-height:35px;letter-spacing:0.000px;transform:scaleX(0.9316);transform-origin:0 0;-webkit-text-stroke:0.5px #1a4584;color:#1a4584;font-family:'Liberation Serif',serif;">D</span>
<span class="t" style="left:1269.20px;top:37.00px;font-size:26.8px;line-height:35px;letter-spacing:0.000px;transform:scaleX(0.9550);transform-origin:0 0;-webkit-text-stroke:0.5px #1a4584;color:#1a4584;font-family:'Liberation Serif',serif;">A</span>
<span class="t" style="left:1294.50px;top:37.00px;font-size:26.8px;line-height:35px;letter-spacing:0.000px;transform:scaleX(0.8400);transform-origin:0 0;-webkit-text-stroke:0.5px #1a4584;color:#1a4584;font-family:'Liberation Serif',serif;">L</span>
<span class="t" style="left:1317.20px;top:37.00px;font-size:26.8px;line-height:35px;letter-spacing:0.000px;transform:scaleX(0.9000);transform-origin:0 0;-webkit-text-stroke:0.5px #1a4584;color:#1a4584;font-family:'Liberation Serif',serif;">E</span>
</div>
</body></html>
